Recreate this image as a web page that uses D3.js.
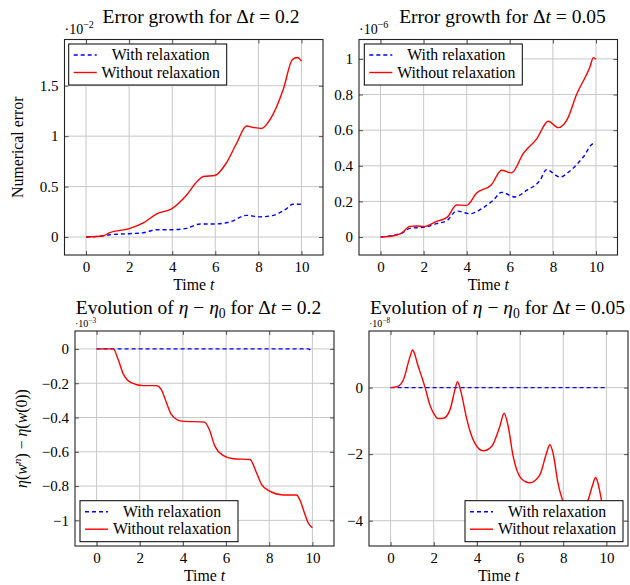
<!DOCTYPE html>
<html>
<head>
<meta charset="utf-8">
<script src="https://cdn.jsdelivr.net/npm/d3@7/dist/d3.min.js"></script>
<style>
  body { margin: 0; background: #fff; }
  svg { display: block; }
  svg text { font-family: "Liberation Serif", "Times New Roman", "DejaVu Serif", serif; }
</style>
</head>
<body>
<div id="chart"></div>
<script>
// ---- data ----
const xTicks = [0, 2, 4, 6, 8, 10];

// Error growth, dt = 0.2   (values in units of 1e-2)
const tErr02 = [0, 0.8, 1.1, 2.0, 2.66, 3.28, 3.97, 4.6, 5.2, 5.44, 5.98, 6.5, 6.99, 7.45, 7.77, 8.15, 8.53, 9.15, 9.58, 9.81, 10];
const errNoRelax02 = [0, 0.013, 0.043, 0.083, 0.14, 0.23, 0.28, 0.40, 0.56, 0.60, 0.61, 0.73, 0.93, 1.10, 1.086, 1.076, 1.16, 1.46, 1.76, 1.78, 1.745];
const tErrRelax02 = [0, 0.8, 1.1, 2.0, 2.66, 3.28, 4.0, 4.67, 5.3, 6.0, 6.68, 7.45, 8.07, 8.69, 9.3, 9.6, 10];
const errRelax02 = [0, 0.013, 0.023, 0.033, 0.043, 0.073, 0.073, 0.086, 0.13, 0.13, 0.15, 0.215, 0.20, 0.215, 0.28, 0.325, 0.325];
const yTicksErr02 = [0, 0.5, 1, 1.5];
const yLabelsErr02 = ["0", "0.5", "1", "1.5"];

// Error growth, dt = 0.05   (units of 1e-6)
const tErr005 = [0, 0.59, 0.98, 1.36, 1.67, 2.06, 2.6, 3.1, 3.53, 4.0, 4.46, 5.15, 5.62, 6.08, 6.63, 7.24, 7.79, 8.25, 8.64, 9.1, 9.72, 9.88, 10];
const errNoRelax005 = [0, 0.0075, 0.022, 0.06, 0.062, 0.06, 0.088, 0.112, 0.18, 0.178, 0.247, 0.294, 0.375, 0.36, 0.47, 0.55, 0.65, 0.614, 0.655, 0.80, 0.955, 1.007, 0.998];
const tErrRelax005 = [0, 0.98, 1.36, 2.06, 2.6, 3.1, 3.53, 4.15, 4.77, 5.23, 5.62, 6.24, 6.78, 7.4, 7.7, 8.33, 8.79, 9.41, 9.88, 10];
const errRelax005 = [0, 0.022, 0.049, 0.056, 0.075, 0.094, 0.146, 0.131, 0.165, 0.206, 0.251, 0.225, 0.262, 0.318, 0.378, 0.337, 0.371, 0.449, 0.524, 0.52];
const yTicksErr005 = [0, 0.2, 0.4, 0.6, 0.8, 1];
const yLabelsErr005 = ["0", "0.2", "0.4", "0.6", "0.8", "1"];

// Entropy evolution, dt = 0.2   (units of 1e-3)
const tEta02 = [0, 0.77, 1.0, 1.23, 1.62, 2.16, 2.78, 3.0, 3.24, 3.47, 3.94, 5.0, 5.22, 5.48, 5.86, 6.33, 7.1, 7.41, 7.64, 8.02, 8.64, 9.26, 9.41, 9.64, 9.8, 10];
const etaNoRelax02 = [0, 0, -0.062, -0.144, -0.198, -0.214, -0.214, -0.237, -0.315, -0.383, -0.421, -0.427, -0.47, -0.567, -0.621, -0.641, -0.645, -0.722, -0.79, -0.83, -0.852, -0.852, -0.878, -0.96, -1.014, -1.043];
const tEtaRelax02 = [0, 2, 4, 6, 8, 9.8, 10];
const etaRelax02 = [0, 0, 0, 0, 0, 0, -0.016];
const yTicksEta02 = [0, -0.2, -0.4, -0.6, -0.8, -1];
const yLabelsEta02 = ["0", "\u22120.2", "\u22120.4", "\u22120.6", "\u22120.8", "\u22121"];

// Entropy evolution, dt = 0.05   (units of 1e-8)
const tEta005 = [0, 0.3, 0.59, 0.9, 1.02, 1.12, 1.25, 1.44, 1.6, 1.82, 2.0, 2.2, 2.45, 2.75, 2.98, 3.1, 3.25, 3.52, 3.7, 3.9, 4.29, 4.68, 5.06, 5.26, 5.45, 5.68, 6.06, 6.45, 6.91, 7.22, 7.38, 7.53, 7.76, 8.0, 8.5, 8.8, 9.15, 9.35, 9.5, 9.6, 9.77, 10];
const etaNoRelax005 = [0, 0.03, 0.23, 0.93, 1.13, 1.0, 0.7, 0.33, 0.0, -0.52, -0.78, -0.93, -0.92, -0.67, -0.07, 0.18, -0.1, -0.92, -1.35, -1.67, -1.9, -1.77, -1.17, -0.77, -1.17, -2.07, -2.74, -2.86, -2.63, -1.98, -1.72, -1.98, -2.88, -3.43, -3.82, -3.72, -3.38, -2.95, -2.7, -2.85, -3.38, -4.25];
const tEtaRelax005 = [0, 2, 4, 6, 8, 10];
const etaRelax005 = [0, 0, 0, 0, 0, 0];
const yTicksEta005 = [0, -2, -4];
const yLabelsEta005 = ["0", "\u22122", "\u22124"];

const legendNames = ["With relaxation", "Without relaxation"];

// ---- drawing ----
const FONT = "'Liberation Serif', 'Times New Roman', 'DejaVu Serif', serif";
const TITLE_SIZE = 19.5;
const svg = d3.select("#chart").append("svg")
  .attr("width", 630)
  .attr("height", 585)
  .attr("font-family", FONT);

const RED = "#ff0000", BLUE = "#0000ff";

// write text made of pieces: {s, i: italic, sub, sup, back: dy reset}
function mathText(sel, parts, size) {
  sel.attr("font-family", FONT);
  parts.forEach(p => {
    const t = sel.append("tspan").text(p.s);
    if (p.i) t.attr("font-style", "italic");
    if (p.sub) t.attr("font-size", size * 0.7).attr("dy", size * 0.22);
    if (p.sup) t.attr("font-size", size * 0.72).attr("dy", -size * 0.4);
    if (p.back) t.attr("dy", p.back);
  });
}

function panel(o) {
  const x = d3.scaleLinear().domain([-1, 11]).range([o.left, o.right]);
  const y = d3.scaleLinear().domain(o.yDomain).range([o.bottom, o.top]);
  const g = svg.append("g");

  // grid
  g.selectAll(".gx").data(xTicks).join("line")
    .attr("x1", d => x(d)).attr("x2", d => x(d))
    .attr("y1", o.top).attr("y2", o.bottom)
    .attr("stroke", "#c8c8c8").attr("stroke-width", 1);
  g.selectAll(".gy").data(o.yTicks).join("line")
    .attr("y1", d => y(d)).attr("y2", d => y(d))
    .attr("x1", o.left).attr("x2", o.right)
    .attr("stroke", "#c8c8c8").attr("stroke-width", 1);

  // axes (ticks inside on all sides)
  const styleAxis = a => {
    a.attr("font-family", FONT).attr("font-size", 15);
    a.select(".domain").remove();
    a.selectAll(".tick line").attr("stroke", "#555");
    a.selectAll("text").attr("fill", "#000");
  };
  g.append("g").attr("transform", `translate(0,${o.bottom})`)
    .call(d3.axisBottom(x).tickValues(xTicks).tickSize(-4).tickPadding(6))
    .call(styleAxis);
  g.append("g").attr("transform", `translate(0,${o.top})`)
    .call(d3.axisTop(x).tickValues(xTicks).tickSize(-4).tickFormat(""))
    .call(styleAxis);
  g.append("g").attr("transform", `translate(${o.left},0)`)
    .call(d3.axisLeft(y).tickValues(o.yTicks).tickSize(-4).tickPadding(6)
      .tickFormat((d, i) => o.yLabels[i]))
    .call(styleAxis);
  g.append("g").attr("transform", `translate(${o.right},0)`)
    .call(d3.axisRight(y).tickValues(o.yTicks).tickSize(-4).tickFormat(""))
    .call(styleAxis);

  // curves
  const line = d3.line().x(d => x(d[0])).y(d => y(d[1])).curve(d3.curveMonotoneX);
  g.append("path")
    .datum(d3.zip(o.tRelax, o.relax))
    .attr("d", line).attr("fill", "none")
    .attr("stroke", BLUE).attr("stroke-width", 1.4).attr("stroke-dasharray", "4,3");
  g.append("path")
    .datum(d3.zip(o.tNo, o.noRelax))
    .attr("d", line).attr("fill", "none")
    .attr("stroke", RED).attr("stroke-width", 1.4);

  // frame
  g.append("rect")
    .attr("x", o.left).attr("y", o.top)
    .attr("width", o.right - o.left).attr("height", o.bottom - o.top)
    .attr("fill", "none").attr("stroke", "#222").attr("stroke-width", 1.1);

  // legend
  const lg = g.append("g").attr("transform", `translate(${o.legend[0]},${o.legend[1]})`);
  lg.append("rect").attr("width", 158).attr("height", 41)
    .attr("fill", "#fff").attr("stroke", "#000").attr("stroke-width", 1);
  legendNames.forEach((name, i) => {
    const yy = 11 + i * 17.5;
    lg.append("line").attr("x1", 5).attr("x2", 28).attr("y1", yy).attr("y2", yy)
      .attr("stroke", i ? RED : BLUE).attr("stroke-width", 1.4)
      .attr("stroke-dasharray", i ? null : "4,3");
    lg.append("text").attr("x", 92).attr("y", yy + 5)
      .attr("font-family", FONT)
      .attr("text-anchor", "middle").attr("font-size", 15.8).text(name);
  });

  // scale factor label
  const sf = g.append("text").attr("x", o.left).attr("y", o.expY).attr("font-size", o.expSize);
  mathText(sf, [{ s: "\u00b710" }, { s: o.exp, sup: true }], o.expSize);

  // title
  const tt = g.append("text").attr("x", o.titleX).attr("y", o.titleY)
    .attr("text-anchor", "middle").attr("font-size", TITLE_SIZE);
  mathText(tt, o.title, TITLE_SIZE);

  // x label
  const xl = g.append("text").attr("x", (o.left + o.right) / 2).attr("y", o.bottom + 35)
    .attr("text-anchor", "middle").attr("font-size", 15.8);
  mathText(xl, [{ s: "Time " }, { s: "t", i: true }], 15.8);

  // y label
  if (o.yLabel) {
    const yl = g.append("text")
      .attr("transform", `translate(${o.yLabelX},${(o.top + o.bottom) / 2}) rotate(-90)`)
      .attr("text-anchor", "middle").attr("font-size", 15.8);
    mathText(yl, o.yLabel, 15.8);
  }
}

panel({
  left: 64.5, right: 323, top: 39.5, bottom: 255,
  yDomain: [-0.178, 1.958], yTicks: yTicksErr02, yLabels: yLabelsErr02,
  tNo: tErr02, noRelax: errNoRelax02, tRelax: tErrRelax02, relax: errRelax02,
  legend: [68.7, 44], exp: "\u22122", expSize: 14, expY: 34,
  titleX: 201, titleY: 23,
  title: [{ s: "Error growth for \u0394" }, { s: "t", i: true }, { s: " = 0.2" }],
  yLabel: [{ s: "Numerical error" }], yLabelX: 23
});

panel({
  left: 359, right: 617.5, top: 39.5, bottom: 255,
  yDomain: [-0.1008, 1.109], yTicks: yTicksErr005, yLabels: yLabelsErr005,
  tNo: tErr005, noRelax: errNoRelax005, tRelax: tErrRelax005, relax: errRelax005,
  legend: [364.3, 44], exp: "\u22126", expSize: 14, expY: 34,
  titleX: 502.5, titleY: 23,
  title: [{ s: "Error growth for \u0394" }, { s: "t", i: true }, { s: " = 0.05" }]
});

panel({
  left: 75, right: 334, top: 331, bottom: 546,
  yDomain: [-1.1495, 0.1045], yTicks: yTicksEta02, yLabels: yLabelsEta02,
  tNo: tEta02, noRelax: etaNoRelax02, tRelax: tEtaRelax02, relax: etaRelax02,
  legend: [80, 500.7], exp: "\u22123", expSize: 10, expY: 327,
  titleX: 198.5, titleY: 314,
  title: [{ s: "Evolution of " }, { s: "\u03b7", i: true }, { s: " \u2212 " }, { s: "\u03b7", i: true },
          { s: "0", sub: true }, { s: " for \u0394", back: -TITLE_SIZE * 0.22 }, { s: "t", i: true }, { s: " = 0.2" }],
  yLabel: [{ s: "\u03b7", i: true }, { s: "(" }, { s: "w", i: true }, { s: "n", i: true, sup: true },
           { s: ") \u2212 ", back: 15.8 * 0.4 }, { s: "\u03b7", i: true }, { s: "(" }, { s: "w", i: true }, { s: "(0))" }],
  yLabelX: 27
});

panel({
  left: 369, right: 628, top: 331, bottom: 546,
  yDomain: [-4.76, 1.70], yTicks: yTicksEta005, yLabels: yLabelsEta005,
  tNo: tEta005, noRelax: etaNoRelax005, tRelax: tEtaRelax005, relax: etaRelax005,
  legend: [465, 500.7], exp: "\u22128", expSize: 10, expY: 327,
  titleX: 497.5, titleY: 314,
  title: [{ s: "Evolution of " }, { s: "\u03b7", i: true }, { s: " \u2212 " }, { s: "\u03b7", i: true },
          { s: "0", sub: true }, { s: " for \u0394", back: -TITLE_SIZE * 0.22 }, { s: "t", i: true }, { s: " = 0.05" }]
});
</script>
</body>
</html>
